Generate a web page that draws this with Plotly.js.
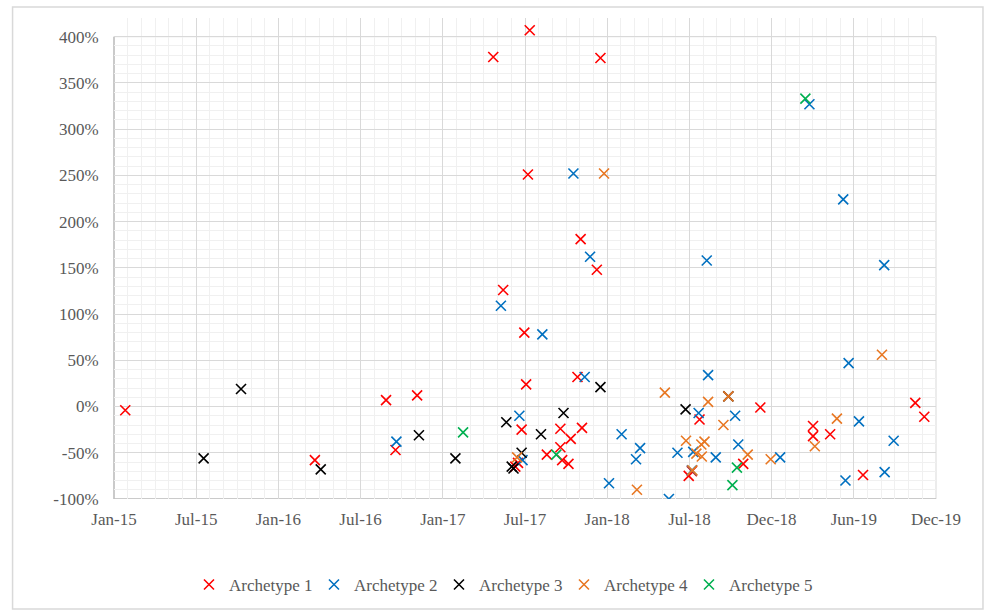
<!DOCTYPE html>
<html>
<head>
<meta charset="utf-8">
<script src="https://cdn.plot.ly/plotly-3.0.1.min.js"></script>
<style>
html,body{margin:0;padding:0;background:#fff;}
#chart{width:986px;height:611px;}
</style>
</head>
<body>
<div id="chart"></div>
<script>
// ---- Data (values in %) ----
var seriesNames = ["Archetype 1", "Archetype 2", "Archetype 3", "Archetype 4", "Archetype 5"];

var a1Dates = ["2015-01-26","2016-03-22","2016-08-27","2016-09-17","2016-11-04","2017-04-22","2017-07-12","2017-12-16","2017-07-08","2017-05-14","2017-11-02","2017-12-08","2017-06-30","2017-07-04","2017-10-26","2017-06-24","2017-09-18","2017-11-05","2017-10-11","2017-09-18","2017-08-19","2017-09-22","2017-10-06","2017-06-10","2017-06-16","2018-07-24","2018-12-06","2018-10-29","2018-06-30","2018-07-07","2019-04-02","2019-04-02","2019-05-10","2019-07-22","2019-11-15","2019-12-05"];
var a1Values = [-4,-58,7,-47,12,378,407,377,251,126,181,148,80,24,32,-25,-24,-23,-35,-44,-52,-58,-62,-65,-61,-14,-1,-62,-75,-70,-21,-32,-30,-74,4,-11];

var a2Dates = ["2016-09-19","2017-05-09","2017-06-19","2017-06-26","2017-08-09","2017-10-17","2017-11-11","2017-11-23","2018-01-04","2018-02-01","2018-03-05","2018-03-14","2018-05-17","2018-06-05","2018-07-07","2018-07-10","2018-07-22","2018-08-09","2018-08-12","2018-08-29","2018-10-11","2018-10-18","2019-01-19","2019-03-25","2019-06-08","2019-06-13","2019-06-20","2019-07-13","2019-09-07","2019-09-08","2019-09-28"];
var a2Values = [-38,109,-10,-58,78,252,32,162,-83,-30,-57,-45,-100,-50,-69,-49,-7,158,34,-55,-10,-41,-55,327,224,-80,47,-16,153,-71,-37];

var a3Dates = ["2015-07-19","2015-10-10","2016-04-04","2016-11-08","2017-01-28","2017-05-21","2017-06-02","2017-06-06","2017-06-24","2017-08-06","2017-09-25","2017-12-16","2018-06-23","2018-09-26"];
var a3Values = [-56,19,-68,-31,-56,-17,-65,-67,-50,-30,-7,21,-3,11];

var a4Dates = ["2017-06-14","2017-12-24","2018-03-07","2018-05-08","2018-06-24","2018-07-08","2018-07-17","2018-07-28","2018-08-04","2018-07-29","2018-08-12","2018-09-15","2018-09-26","2018-11-08","2018-12-29","2019-04-06","2019-05-25","2019-09-02"];
var a4Values = [-55,252,-90,15,-37,-69,-51,-41,-38,-54,5,-20,11,-52,-57,-43,-13,56];

var a5Dates = ["2017-02-14","2017-09-09","2018-10-05","2018-10-15","2019-03-16"];
var a5Values = [-28,-52,-85,-66,333];

var xTickLabels = ["Jan-15","Jul-15","Jan-16","Jul-16","Jan-17","Jul-17","Jan-18","Jul-18","Dec-18","Jun-19","Dec-19"];
var yTickValues = [-100,-50,0,50,100,150,200,250,300,350,400];
var yTickLabels = ["-100%","-50%","0%","50%","100%","150%","200%","250%","300%","350%","400%"];

// ---- Styling ----
var colors = ["#FF0000", "#0070C0", "#000000", "#E87722", "#00B050"];
var allDates = [a1Dates, a2Dates, a3Dates, a4Dates, a5Dates];
var allValues = [a1Values, a2Values, a3Values, a4Values, a5Values];

var traces = seriesNames.map(function (name, i) {
  return {
    type: "scatter",
    mode: "markers",
    name: name,
    x: allDates[i],
    y: allValues[i],
    marker: {
      symbol: "x-thin",
      size: 10,
      color: colors[i],
      line: { color: colors[i], width: 1.6 }
    },
    hoverinfo: "x+y+name"
  };
});

// x axis: evenly spaced major ticks with Excel-like labels
var DAY = 86400000;
var xStart = Date.UTC(2015, 0, 1);
var xEnd = xStart + 1825 * DAY;
var majorStep = (xEnd - xStart) / (xTickLabels.length - 1);
var majorVals = xTickLabels.map(function (_, i) { return xStart + i * majorStep; });
var minorVals = [];
for (var k = 0; k <= (xTickLabels.length - 1) * 6; k++) {
  if (k % 6 !== 0) minorVals.push(xStart + k * majorStep / 6);
}
var yMin = yTickValues[0], yMax = yTickValues[yTickValues.length - 1];
var yMinorVals = [];
for (var v = yMin + 10; v < yMax; v += 10) { if (v % 50 !== 0) yMinorVals.push(v); }

// pixel geometry: plot box (400% line at T, -100% at B); extra headroom above so
// the out-of-range point above 400% is still drawn like in the original
var L = 113.5, R = 936, T = 36.7, B = 499, Ttop = 18;
var W = 986, H = 611;
var pw = R - L, ph = B - Ttop;
var yTop = yMin + (yMax - yMin) * (B - Ttop) / (B - T);
function px(x) { return (x - L) / pw; }
function py(y) { return (B - y) / ph; }

var tickFont = { family: "Liberation Serif, Times New Roman, serif", size: 17, color: "#595959" };

var layout = {
  width: W,
  height: H,
  margin: { l: L, r: W - R, t: Ttop, b: H - B, pad: 0 },
  paper_bgcolor: "#ffffff",
  plot_bgcolor: "#ffffff",
  showlegend: true,
  xaxis: {
    type: "date",
    range: [xStart, xEnd],
    tickmode: "array",
    tickvals: majorVals,
    ticktext: xTickLabels,
    tickfont: tickFont,
    ticks: "outside",
    ticklen: 5,
    tickcolor: "rgba(0,0,0,0)",
    showgrid: true,
    gridcolor: "#d9d9d9",
    gridwidth: 1,
    showline: false,
    zeroline: false,
    minor: { tickmode: "array", tickvals: minorVals, showgrid: true, gridcolor: "#f0f0f0", gridwidth: 1, ticks: "" },
    fixedrange: true
  },
  yaxis: {
    range: [yMin, yTop],
    tickmode: "array",
    tickvals: yTickValues,
    ticktext: yTickLabels,
    tickfont: tickFont,
    ticks: "outside",
    ticklen: 11,
    tickcolor: "rgba(0,0,0,0)",
    showgrid: true,
    gridcolor: "#d9d9d9",
    gridwidth: 1,
    showline: false,
    zeroline: false,
    minor: { tickmode: "array", tickvals: yMinorVals, showgrid: true, gridcolor: "#f0f0f0", gridwidth: 1, ticks: "" },
    fixedrange: true
  },
  legend: {
    orientation: "h",
    xref: "container",
    yref: "container",
    x: 0.5086,
    xanchor: "center",
    y: 1 - 585 / H,
    yanchor: "middle",
    font: { family: "Liberation Serif, Times New Roman, serif", size: 17, color: "#595959" },
    itemwidth: 30,
    entrywidth: 80,
    entrywidthmode: "pixels",
    bgcolor: "rgba(0,0,0,0)",
    traceorder: "normal"
  },
  shapes: [
    // outer chart border
    {
      type: "rect", xref: "paper", yref: "paper",
      x0: px(12), x1: px(983), y0: py(609), y1: py(7),
      line: { color: "#d9d9d9", width: 1.5 },
      fillcolor: "rgba(0,0,0,0)",
      layer: "below"
    },
    // white headroom above the 400% line (hides gridlines there, under markers)
    {
      type: "rect", xref: "paper", yref: "y",
      x0: -0.002, x1: 1.002, y0: yMax, y1: yTop,
      line: { width: 0 },
      fillcolor: "#ffffff",
      layer: "between"
    },
    // plot area frame (top and right)
    {
      type: "rect", xref: "paper", yref: "y",
      x0: 0, x1: 1, y0: yMin, y1: yMax,
      line: { color: "#d9d9d9", width: 1 },
      fillcolor: "rgba(0,0,0,0)",
      layer: "between"
    },
    // left axis line
    {
      type: "line", xref: "paper", yref: "y",
      x0: 0, x1: 0, y0: yMin, y1: yMax,
      line: { color: "#bfbfbf", width: 1.5 },
      layer: "between"
    },
    // bottom axis line
    {
      type: "line", xref: "paper", yref: "y",
      x0: 0, x1: 1, y0: yMin, y1: yMin,
      line: { color: "#bfbfbf", width: 1.5 },
      layer: "between"
    }
  ]
};

Plotly.newPlot("chart", traces, layout, { displayModeBar: false });
</script>
</body>
</html>
